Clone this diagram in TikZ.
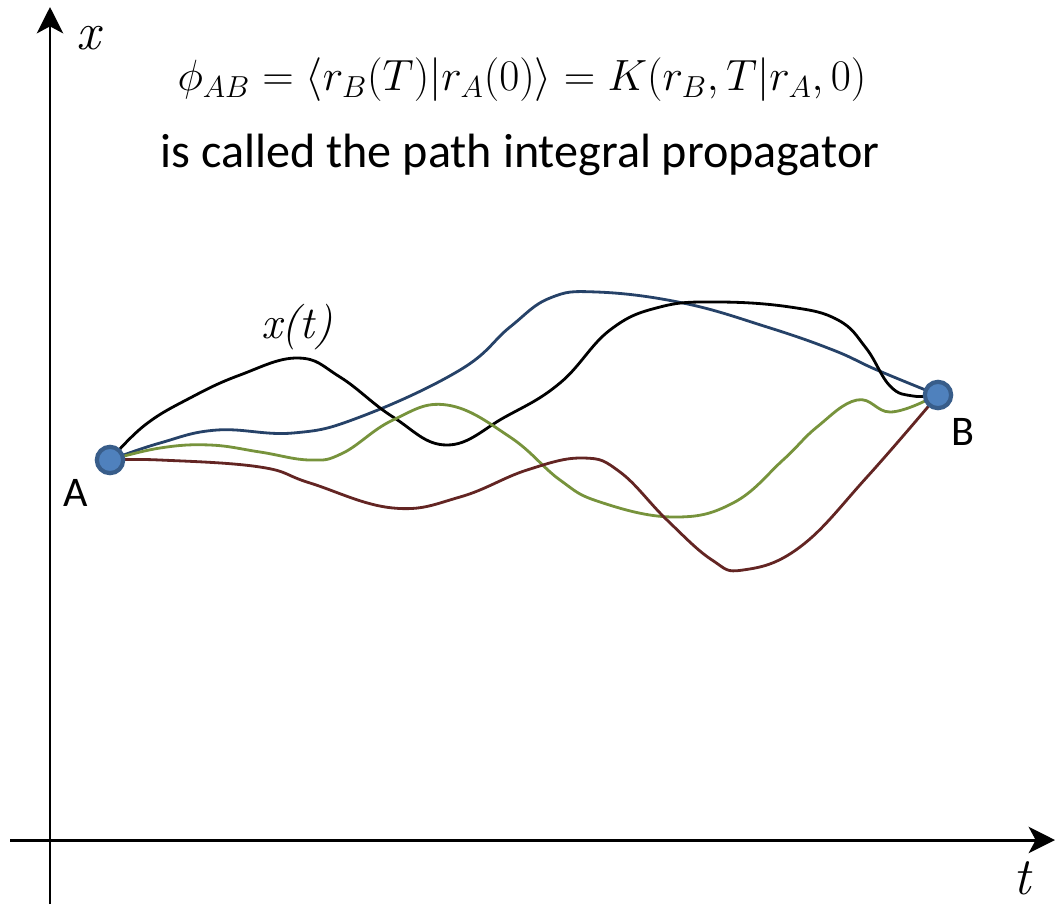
\documentclass[tikz,border=0pt]{standalone}
\usepackage{fontspec}
\newfontfamily\calib{Carlito}
\usetikzlibrary{arrows.meta}
\definecolor{pblue}{RGB}{38,66,104}
\definecolor{pgreen}{RGB}{119,147,60}
\definecolor{pred}{RGB}{99,37,35}
\definecolor{dotfill}{RGB}{79,129,189}
\definecolor{dotedge}{RGB}{56,93,138}
\tikzset{
  axis/.style={line width=1.7pt, -{Stealth[length=15pt,width=15pt,inset=4pt]}},
  pathline/.style={line width=1.6pt, smooth, tension=0.7},
  enddot/.style={circle, fill=dotfill, draw=dotedge, line width=2.4pt, minimum size=15pt, inner sep=0pt},
  ptlabel/.style={font=\calib\fontsize{24}{28}\selectfont, inner sep=0pt},
  axlabel/.style={font=\rmfamily\itshape\fontsize{30}{34}\selectfont, inner sep=0pt}
}
\begin{document}
\begin{tikzpicture}[x=0.02cm,y=-0.02cm]
\useasboundingbox (0,0) rectangle (1055,904);
% axes
\coordinate (xbot) at (50,904);
\coordinate (xtop) at (50,7);
\coordinate (tleft) at (10,840);
\coordinate (tright) at (1055,840);
\draw[axis] (xbot) -- (xtop);
\draw[axis] (tleft) -- (tright);
\node[axlabel] (xlab) at (88,38) {x};
\node[axlabel] (tlab) at (1022,878) {t};
% texts
\node[inner sep=0pt] (formula) at (522,80) {\fontsize{24.2}{28}\selectfont $\phi_{AB} = \langle r_B(T)|r_A(0)\rangle = K(r_B,T|r_A,0)$};
\node[inner sep=0pt, font=\calib\fontsize{27.4}{32}\selectfont] (caption) at (520,155) {is called the path integral propagator};
% end points
\coordinate (A) at (110,460);
\coordinate (B) at (938,395);
% paths
\draw[pathline, pblue] plot coordinates {(A) (160,443) (217,430) (293,433) (360,417) (460,370) (510,327) (550,298) (597,292) (683,303) (767,327) (833,350) (877,370) (B)};
\draw[pathline, black] plot coordinates {(A) (145,425) (190,398) (240,375) (298,358) (340,377) (393,417) (447,445) (505,417) (560,383) (610,330) (660,307) (717,302) (790,307) (838,320) (866,348) (890,386) (913,396) (B)};
\draw[pathline, pgreen] plot coordinates {(A) (160,448) (210,445) (260,452) (310,460) (343,453) (393,420) (447,405) (510,437) (560,480) (600,502) (673,517) (733,503) (783,460) (817,427) (857,400) (890,412) (927,400)};
\draw[pathline, pred] plot coordinates {(A) (160,460) (260,467) (310,483) (393,508) (460,497) (527,470) (583,458) (620,472) (667,520) (712,560) (743,570) (800,547) (867,477) (B)};
\node[enddot] (Adot) at (A) {};
\node[enddot] (Bdot) at (B) {};
\node[ptlabel] (Alab) at (76,493) {A};
\node[ptlabel] (Blab) at (963,432) {B};
\node[axlabel, font=\rmfamily\itshape\fontsize{26}{30}\selectfont] (xt) at (297,327) {x(t)};
\end{tikzpicture}
\end{document}
